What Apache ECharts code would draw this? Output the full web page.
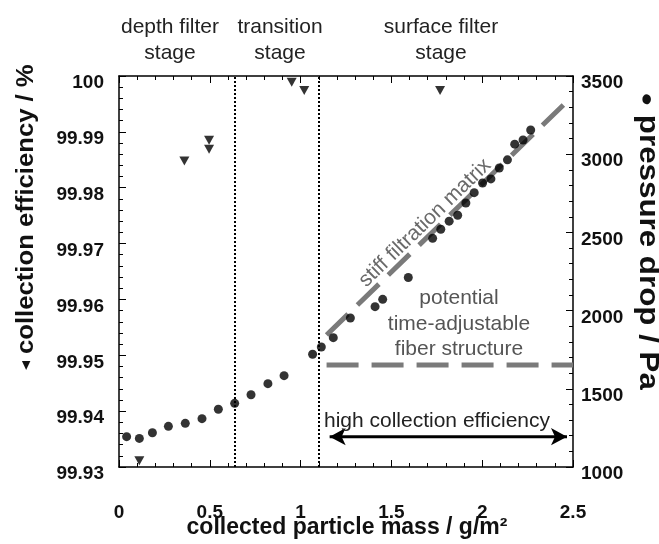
<!DOCTYPE html>
<html>
<head>
<meta charset="utf-8">
<script src="https://cdn.jsdelivr.net/npm/echarts@6/dist/echarts.min.js"></script>
<style>
  html, body { margin: 0; background: #fff; }
  #chart { width: 659px; height: 544px; }
</style>
</head>
<body>
<div id="chart"></div>
<script>
// pressure drop (right axis, Pa) over collected particle mass (g/m²)
const massP = [0.042, 0.112, 0.184, 0.272, 0.365, 0.457, 0.547, 0.637, 0.727, 0.82,
  0.909, 1.066, 1.114, 1.18, 1.274, 1.41, 1.452, 1.593, 1.727, 1.772,
  1.818, 1.865, 1.91, 1.956, 2.002, 2.048, 2.094, 2.139, 2.179, 2.225, 2.267];
const pressure = [1194, 1183, 1219, 1260, 1279, 1309, 1369, 1407, 1462, 1533,
  1584, 1721, 1767, 1827, 1953, 2025, 2072, 2212, 2462, 2520,
  2572, 2610, 2688, 2754, 2816, 2842, 2912, 2964, 3064, 3091, 3155];

// collection efficiency (left axis, %)
const massE = [0.112, 0.36, 0.496, 0.496, 0.951, 1.02, 1.768];
const efficiency = [99.9311, 99.9848, 99.9885, 99.9869, 99.9989, 99.9974, 99.9974];

// stage borders and guide lines
const stageBounds = [0.643, 1.097];
const stiffLine = [[1.143, 1844], [2.447, 3315]];
const fiberLine = [[1.143, 1652], [2.5, 1652]];
const arrowSpan = [[1.16, 1194], [2.467, 1194]];

const xTicks = {min: 0, max: 2.5, interval: 0.5};
const effTicks = {min: 99.93, max: 100, interval: 0.01};
const pTicks = {min: 1000, max: 3500, interval: 500};

const tickFont = {
    fontFamily: '"Liberation Sans", Arial, sans-serif',
    fontWeight: 'bold',
    fontSize: 19,
    color: '#111'
};
const plainFont = '"Liberation Sans", Arial, sans-serif';

const axisBase = {
    splitLine: {show: false},
    axisLine: {onZero: false, lineStyle: {color: '#000', width: 1.5}},
    axisTick: {inside: true, length: 7, lineStyle: {color: '#000', width: 1}},
    minorTick: {show: true, splitNumber: 5, length: 4, lineStyle: {color: '#000', width: 1}}
};

const label = (text, x, y, opts) => ({
    type: 'text',
    x: x,
    y: y,
    rotation: (opts && opts.rotation) || 0,
    scaleX: (opts && opts.stretch) || 1,
    z: 100,
    style: {
        text: text,
        fill: (opts && opts.fill) || '#222',
        fontSize: (opts && opts.size) || 21,
        fontWeight: (opts && opts.weight) || 'normal',
        fontFamily: plainFont,
        lineHeight: (opts && opts.lineHeight) || 26,
        textAlign: 'center',
        textVerticalAlign: 'middle',
        rich: (opts && opts.rich) || undefined
    }
});

const chart = echarts.init(document.getElementById('chart'));

const option = {
    animation: false,
    backgroundColor: '#fff',
    grid: {left: 119, right: 86, top: 76, bottom: 77},
    xAxis: [
        {
            type: 'value', position: 'bottom', ...xTicks, ...axisBase,
            axisLabel: {...tickFont, margin: 36, formatter: v => String(+v.toFixed(1))}
        },
        {
            type: 'value', position: 'top', ...xTicks, ...axisBase,
            axisLabel: {show: false}
        }
    ],
    yAxis: [
        {
            type: 'value', position: 'left', ...effTicks, ...axisBase,
            axisLabel: {...tickFont, margin: 15, verticalAlign: 'top', lineHeight: 14,
                formatter: v => String(+v.toFixed(2))}
        },
        {
            type: 'value', position: 'right', ...pTicks, ...axisBase,
            axisLabel: {...tickFont, margin: 8, verticalAlign: 'top', lineHeight: 14,
                formatter: v => String(Math.round(v))}
        }
    ],
    series: [
        {
            name: 'stiff filtration matrix',
            type: 'line',
            xAxisIndex: 0, yAxisIndex: 1,
            data: stiffLine,
            symbol: 'none',
            lineStyle: {color: '#7a7a7a', width: 5, type: [30, 13]},
            z: 2
        },
        {
            name: 'fiber structure',
            type: 'line',
            xAxisIndex: 0, yAxisIndex: 1,
            data: fiberLine,
            symbol: 'none',
            lineStyle: {color: '#7a7a7a', width: 5, type: [32, 13]},
            z: 2
        },
        {
            name: 'high collection efficiency',
            type: 'line',
            xAxisIndex: 0, yAxisIndex: 1,
            data: [
                {value: arrowSpan[0], symbolRotate: 90},
                {value: arrowSpan[1], symbolRotate: -90}
            ],
            symbol: 'arrow',
            symbolSize: [13, 16],
            showAllSymbol: true,
            itemStyle: {color: '#000'},
            lineStyle: {color: '#000', width: 3},
            z: 3
        },
        {
            name: 'pressure drop',
            type: 'scatter',
            xAxisIndex: 0, yAxisIndex: 1,
            data: massP.map((m, i) => [m, pressure[i]]),
            symbol: 'circle',
            symbolSize: 9,
            itemStyle: {color: '#000'},
            z: 4
        },
        {
            name: 'collection efficiency',
            type: 'scatter',
            xAxisIndex: 0, yAxisIndex: 0,
            data: massE.map((m, i) => [m, efficiency[i]]),
            symbol: 'triangle',
            symbolRotate: 180,
            symbolSize: [10, 9],
            itemStyle: {color: '#000'},
            z: 4,
            markLine: {
                silent: true,
                symbol: 'none',
                label: {show: false},
                lineStyle: {color: '#000', width: 2, type: [2, 2]},
                data: stageBounds.map(x => ({xAxis: x}))
            }
        }
    ],
    graphic: [
        label('depth filter\nstage', 170, 40),
        label('transition\nstage', 280, 40),
        label('surface filter\nstage', 441, 40),
        label('high collection efficiency', 437, 421),
        label('potential\ntime-adjustable\nfiber structure', 459, 324, {fill: '#555', lineHeight: 25.5}),
        label('stiff filtration matrix', 425, 223, {fill: '#6a6a6a', size: 21, rotation: 44 * Math.PI / 180}),
        label('collected particle mass / g/m²', 347, 528, {fill: '#111', size: 23, weight: 'bold'}),
        label('{t|◀} collection efficiency / %', 26, 217, {
            fill: '#111', size: 24, weight: 'bold', rotation: Math.PI / 2, stretch: 1.07,
            rich: {t: {fontSize: 11, fill: '#111'}}
        }),
        label('{b|●} pressure drop / Pa', 647, 241, {
            fill: '#111', size: 27, weight: 'bold', rotation: -Math.PI / 2, stretch: 1.16,
            rich: {b: {fontSize: 20, fill: '#111'}}
        })
    ]
};

chart.setOption(option);
</script>
</body>
</html>
